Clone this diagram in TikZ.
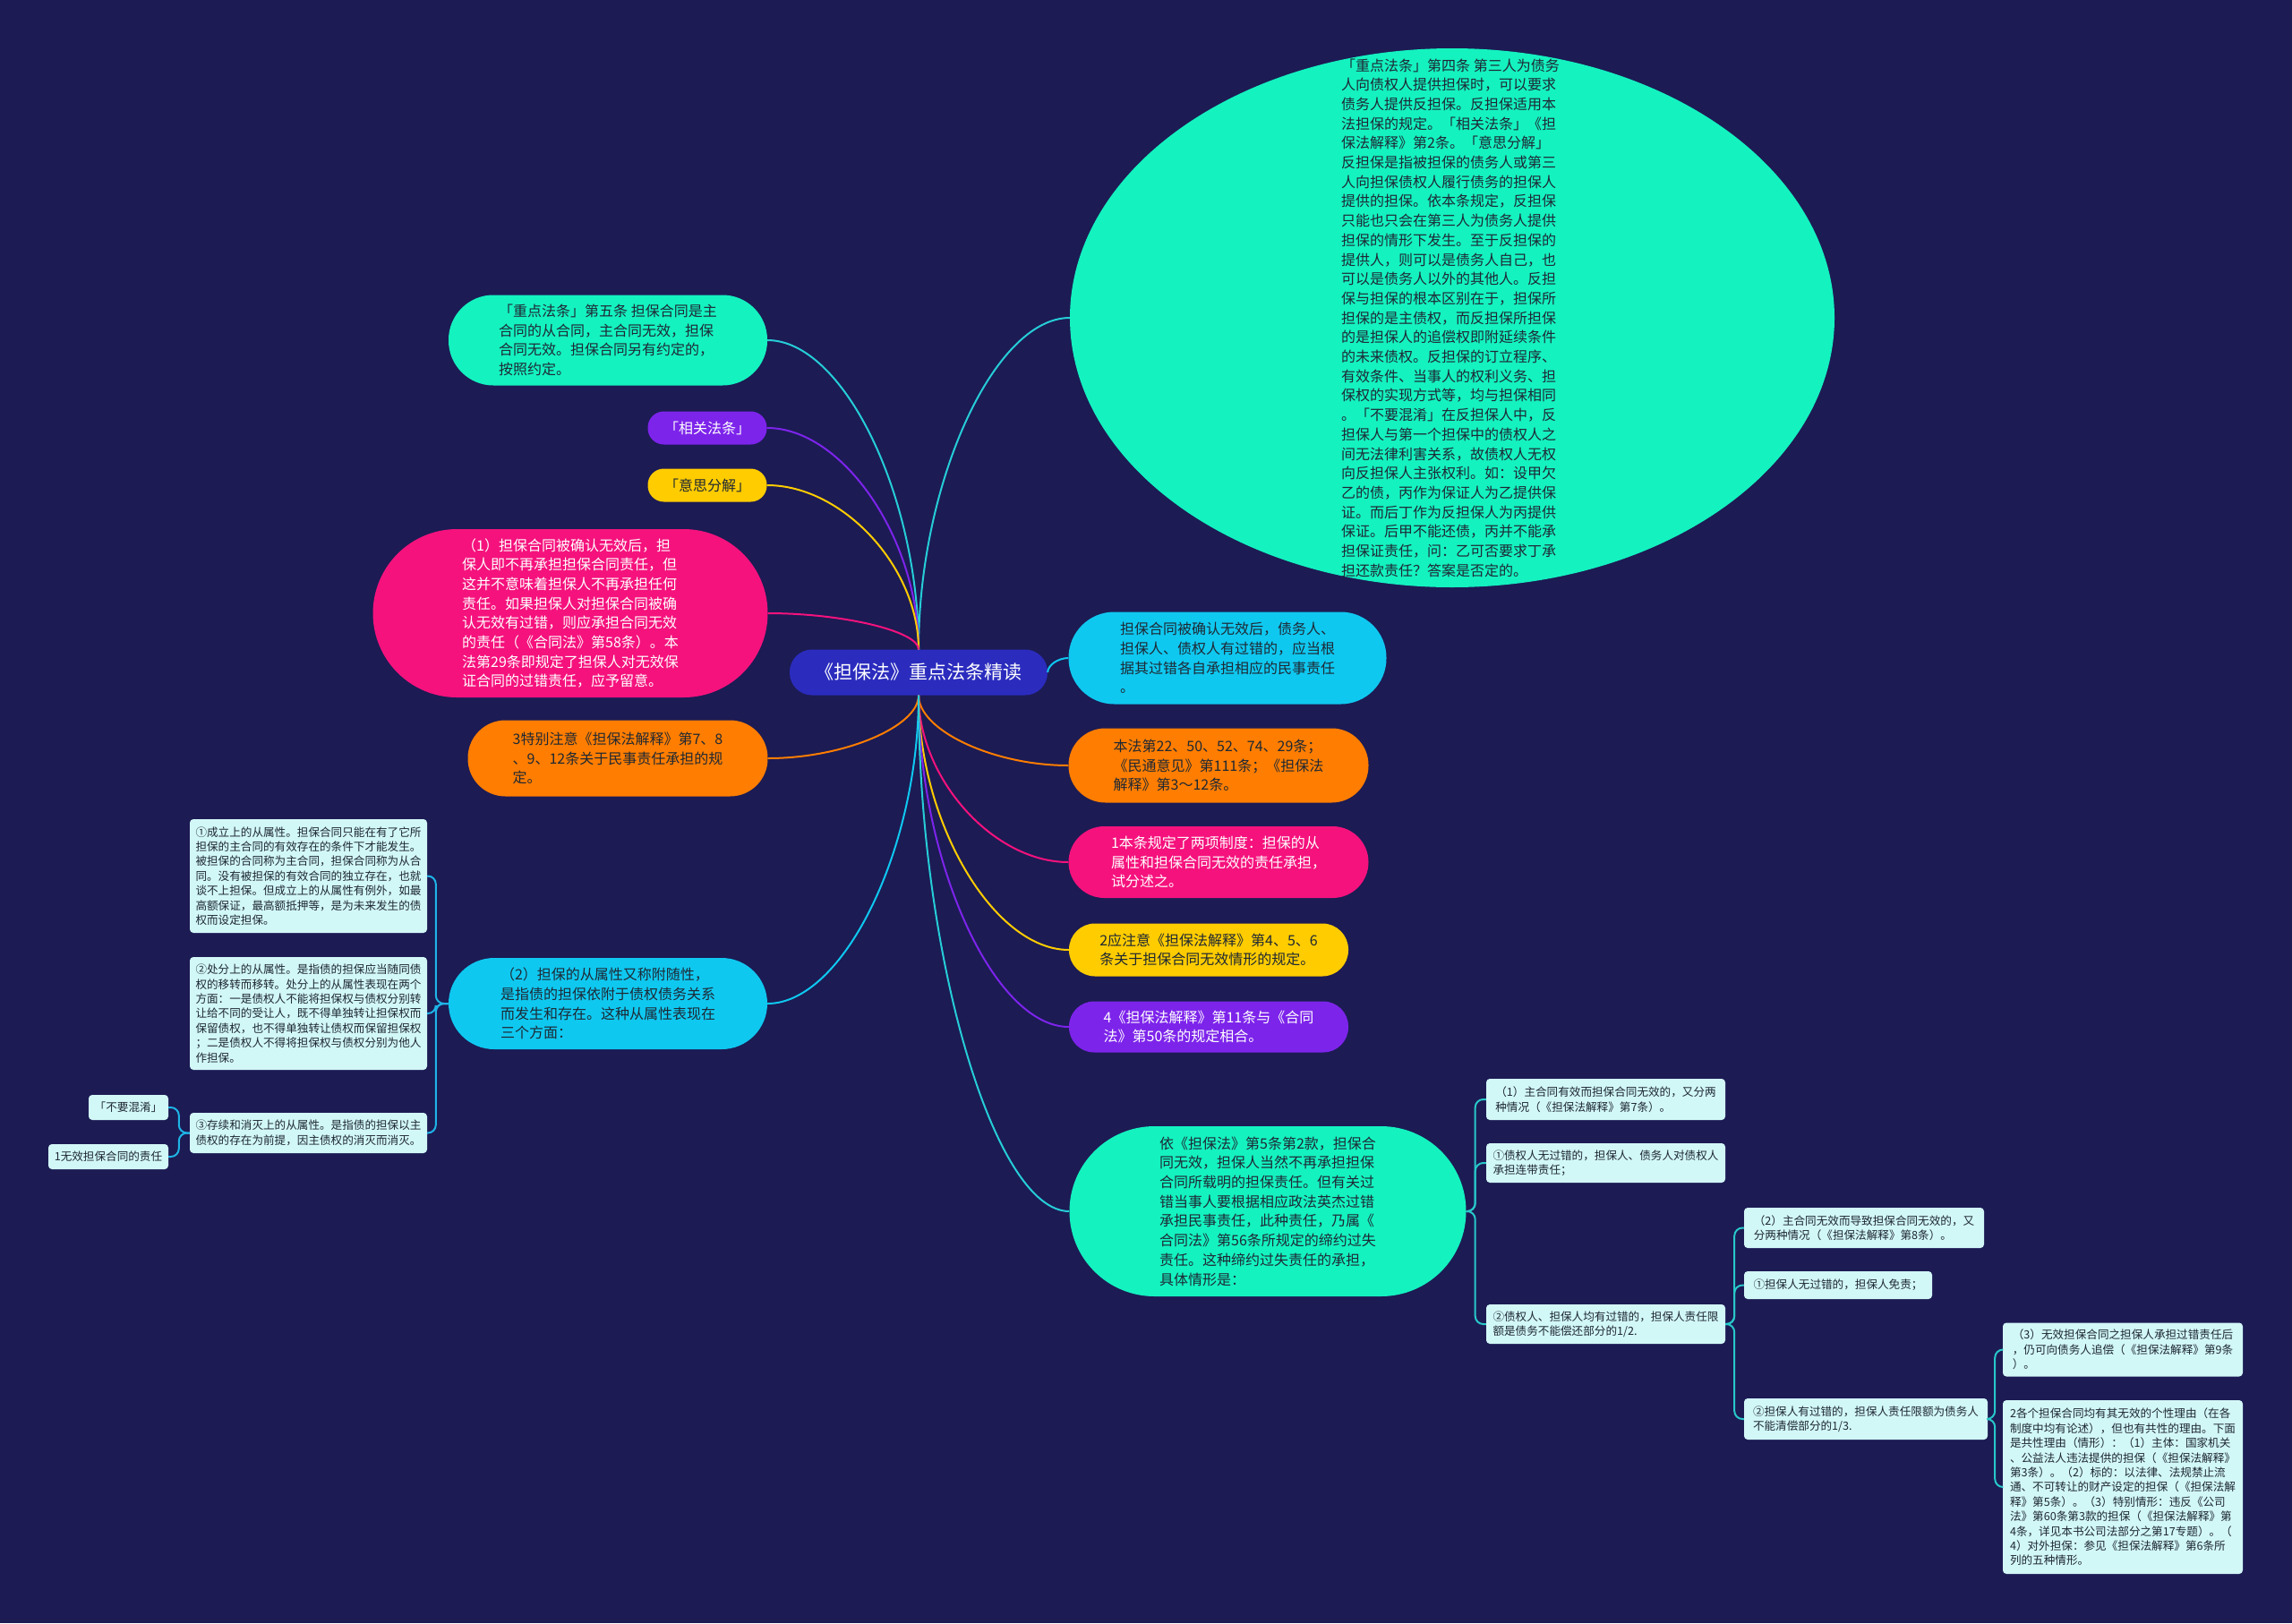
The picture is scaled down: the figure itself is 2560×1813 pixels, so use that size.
\documentclass[tikz,border=0pt]{standalone}
\usepackage{fontspec}
\setmainfont{Noto Sans CJK SC}
\usetikzlibrary{calc,shapes.geometric}
\definecolor{bg}{RGB}{28,27,84}
\definecolor{cgreen}{RGB}{20,242,192}
\definecolor{cgreenedge}{RGB}{38,205,215}
\definecolor{ccenter}{RGB}{43,44,190}
\definecolor{cpurple}{RGB}{125,36,235}
\definecolor{cyellow}{RGB}{255,204,0}
\definecolor{cpink}{RGB}{245,18,125}
\definecolor{corange}{RGB}{255,125,0}
\definecolor{ccyan}{RGB}{15,200,240}
\definecolor{cbox}{RGB}{210,247,247}
\definecolor{cdark}{RGB}{30,40,52}
\definecolor{ccyanline}{RGB}{30,180,230}
\definecolor{ctealline}{RGB}{40,200,200}
\begin{document}
\begin{tikzpicture}[x=1pt,y=-1pt,
  pill/.style={rectangle,inner sep=0pt,align=left,font=\fontsize{16}{21.7}\selectfont},
  sbox/.style={rectangle,rounded corners=4pt,fill=cbox,text=cdark,inner sep=0pt,align=left,font=\fontsize{12.6}{16.4}\selectfont},
  mm/.style={line width=2pt,to path={let \p1=(\tikztostart),\p2=(\tikztotarget) in .. controls (\x1,{0.5*(\y1+\y2)}) and ({0.5*(\x1+\x2)},\y2) .. (\tikztotarget)}},
  brk/.style={line width=2pt,rounded corners=9pt}]
\fill[bg] (0,0) rectangle (2560,1813);
\useasboundingbox (0,0) rectangle (2560,1813);

% centre
\node[pill,fill=ccenter,text=white,minimum width=288,minimum height=51,rounded corners=25,font=\fontsize{21}{26}\selectfont] (ctr) at (1026,751) {《担保法》重点法条精读};

% big ellipse
\node[ellipse,fill=cgreen,minimum width=854,minimum height=602,inner sep=0pt] (big) at (1622,355) {};
\node[pill,text=cdark] (bigtext) at (1620,355) {「重点法条」第四条 第三人为债务\\人向债权人提供担保时，可以要求\\债务人提供反担保。反担保适用本\\法担保的规定。「相关法条」《担\\保法解释》第2条。「意思分解」\\反担保是指被担保的债务人或第三\\人向担保债权人履行债务的担保人\\提供的担保。依本条规定，反担保\\只能也只会在第三人为债务人提供\\担保的情形下发生。至于反担保的\\提供人，则可以是债务人自己，也\\可以是债务人以外的其他人。反担\\保与担保的根本区别在于，担保所\\担保的是主债权，而反担保所担保\\的是担保人的追偿权即附延续条件\\的未来债权。反担保的订立程序、\\有效条件、当事人的权利义务、担\\保权的实现方式等，均与担保相同\\。「不要混淆」在反担保人中，反\\担保人与第一个担保中的债权人之\\间无法律利害关系，故债权人无权\\向反担保人主张权利。如：设甲欠\\乙的债，丙作为保证人为乙提供保\\证。而后丁作为反担保人为丙提供\\保证。后甲不能还债，丙并不能承\\担保证责任，问：乙可否要求丁承\\担还款责任？答案是否定的。};

% left main nodes
\node[pill,fill=cgreen,text=cdark,minimum width=356,minimum height=101,rounded corners=50] (l1) at (679,380) {「重点法条」第五条 担保合同是主\\合同的从合同，主合同无效，担保\\合同无效。担保合同另有约定的，\\按照约定。};
\node[pill,fill=cpurple,text=white,minimum width=133,minimum height=37,rounded corners=18] (l2) at (790,478) {「相关法条」};
\node[pill,fill=cyellow,text=cdark,minimum width=133,minimum height=37,rounded corners=18] (l3) at (790,542) {「意思分解」};
\node[pill,fill=cpink,text=white,minimum width=441,minimum height=188,rounded corners=94] (l4) at (637,685) {（1）担保合同被确认无效后，担\\保人即不再承担担保合同责任，但\\这并不意味着担保人不再承担任何\\责任。如果担保人对担保合同被确\\认无效有过错，则应承担合同无效\\的责任（《合同法》第58条）。本\\法第29条即规定了担保人对无效保\\证合同的过错责任，应予留意。};
\node[pill,fill=corange,text=cdark,minimum width=335,minimum height=85,rounded corners=42] (l5) at (690,847) {3特别注意《担保法解释》第7、8\\、9、12条关于民事责任承担的规\\定。};
\node[pill,fill=ccyan,text=cdark,minimum width=356,minimum height=102,rounded corners=51] (l6) at (679,1121) {（2）担保的从属性又称附随性，\\是指债的担保依附于债权债务关系\\而发生和存在。这种从属性表现在\\三个方面：};

% right main nodes
\node[pill,fill=ccyan,text=cdark,minimum width=355,minimum height=103,rounded corners=51] (r1) at (1371,735) {担保合同被确认无效后，债务人、\\担保人、债权人有过错的，应当根\\据其过错各自承担相应的民事责任\\。};
\node[pill,fill=corange,text=cdark,minimum width=335,minimum height=83,rounded corners=41] (r2) at (1361,855) {本法第22、50、52、74、29条；\\《民通意见》第111条；《担保法\\解释》第3～12条。};
\node[pill,fill=cpink,text=white,minimum width=335,minimum height=80,rounded corners=40] (r3) at (1361,963) {1本条规定了两项制度：担保的从\\属性和担保合同无效的责任承担，\\试分述之。};
\node[pill,fill=cyellow,text=cdark,minimum width=312,minimum height=59,rounded corners=29] (r4) at (1350,1061) {2应注意《担保法解释》第4、5、6\\条关于担保合同无效情形的规定。};
\node[pill,fill=cpurple,text=white,minimum width=312,minimum height=57,rounded corners=28] (r5) at (1350,1147) {4《担保法解释》第11条与《合同\\法》第50条的规定相合。};
\node[pill,fill=cgreen,text=cdark,minimum width=443,minimum height=190,rounded corners=95] (r6) at (1416,1353) {依《担保法》第5条第2款，担保合\\同无效，担保人当然不再承担担保\\合同所载明的担保责任。但有关过\\错当事人要根据相应政法英杰过错\\承担民事责任，此种责任，乃属《\\合同法》第56条所规定的缔约过失\\责任。这种缔约过失责任的承担，\\具体情形是：};

% left small boxes
\node[sbox,minimum width=265,minimum height=127] (b1) at (344.5,978.5) {①成立上的从属性。担保合同只能在有了它所\\担保的主合同的有效存在的条件下才能发生。\\被担保的合同称为主合同，担保合同称为从合\\同。没有被担保的有效合同的独立存在，也就\\谈不上担保。但成立上的从属性有例外，如最\\高额保证，最高额抵押等，是为未来发生的债\\权而设定担保。};
\node[sbox,minimum width=265,minimum height=126] (b2) at (344.5,1132) {②处分上的从属性。是指债的担保应当随同债\\权的移转而移转。处分上的从属性表现在两个\\方面：一是债权人不能将担保权与债权分别转\\让给不同的受让人，既不得单独转让担保权而\\保留债权，也不得单独转让债权而保留担保权\\；二是债权人不得将担保权与债权分别为他人\\作担保。};
\node[sbox,minimum width=265,minimum height=45] (b3) at (344.5,1265.5) {③存续和消灭上的从属性。是指债的担保以主\\债权的存在为前提，因主债权的消灭而消灭。};
\node[sbox,minimum width=89,minimum height=28] (b4) at (143.5,1237) {「不要混淆」};
\node[sbox,minimum width=134,minimum height=28] (b5) at (121,1292) {1无效担保合同的责任};

% right small boxes
\node[sbox,minimum width=267,minimum height=46] (s1) at (1793.5,1228) {（1）主合同有效而担保合同无效的，又分两\\种情况（《担保法解释》第7条）。};
\node[sbox,minimum width=267,minimum height=44] (s2) at (1793.5,1299) {①债权人无过错的，担保人、债务人对债权人\\承担连带责任；};
\node[sbox,minimum width=267,minimum height=44] (s3) at (1793.5,1479) {②债权人、担保人均有过错的，担保人责任限\\额是债务不能偿还部分的1/2.};
\node[sbox,minimum width=268,minimum height=45] (s4) at (2082,1371.5) {（2）主合同无效而导致担保合同无效的，又\\分两种情况（《担保法解释》第8条）。};
\node[sbox,minimum width=210,minimum height=31] (s5) at (2053,1435.5) {①担保人无过错的，担保人免责；};
\node[sbox,minimum width=272,minimum height=46] (s6) at (2084,1585) {②担保人有过错的，担保人责任限额为债务人\\不能清偿部分的1/3.};
\node[sbox,minimum width=268,minimum height=60] (s7) at (2371,1507.5) {（3）无效担保合同之担保人承担过错责任后\\，仍可向债务人追偿（《担保法解释》第9条\\）。};
\node[sbox,minimum width=268,minimum height=194] (s8) at (2371,1661) {2各个担保合同均有其无效的个性理由（在各\\制度中均有论述），但也有共性的理由。下面\\是共性理由（情形）：（1）主体：国家机关\\、公益法人违法提供的担保（《担保法解释》\\第3条）。（2）标的：以法律、法规禁止流\\通、不可转让的财产设定的担保（《担保法解\\释》第5条）。（3）特别情形：违反《公司\\法》第60条第3款的担保（《担保法解释》第\\4条，详见本书公司法部分之第17专题）。（\\4）对外担保：参见《担保法解释》第6条所\\列的五种情形。};

% main connectors
\draw[mm,cgreenedge] (ctr.north) to (big.west);
\draw[mm,cgreenedge] (ctr.north) to (l1.east);
\draw[mm,cpurple] (ctr.north) to (l2.east);
\draw[mm,cyellow] (ctr.north) to (l3.east);
\draw[mm,cpink] (ctr.north) to (l4.east);
\draw[mm,corange] (ctr.south) to (l5.east);
\draw[mm,ccyan] (ctr.south) to (l6.east);
\draw[mm,ccyan] (ctr.east) to (r1.west);
\draw[mm,corange] (ctr.south) to (r2.west);
\draw[mm,cpink] (ctr.south) to (r3.west);
\draw[mm,cyellow] (ctr.south) to (r4.west);
\draw[mm,cpurple] (ctr.south) to (r5.west);
\draw[mm,cgreenedge] (ctr.south) to (r6.west);

% bracket connectors
\draw[brk,ccyanline] (l6.west) -- ++(-14,0) |- (b1.east);
\draw[brk,ccyanline] (l6.west) -- ++(-14,0) |- (b2.east);
\draw[brk,ccyanline] (l6.west) -- ++(-14,0) |- (b3.east);
\draw[brk,ccyanline] (b3.west) -- ++(-12,0) |- (b4.east);
\draw[brk,ccyanline] (b3.west) -- ++(-12,0) |- (b5.east);
\draw[brk,ctealline] (r6.east) -- ++(10,0) |- (s1.west);
\draw[brk,ctealline] (r6.east) -- ++(10,0) |- (s2.west);
\draw[brk,ctealline] (r6.east) -- ++(10,0) |- (s3.west);
\draw[brk,ctealline] (s3.east) -- ++(10,0) |- (s4.west);
\draw[brk,ctealline] (s3.east) -- ++(10,0) |- (s5.west);
\draw[brk,ctealline] (s3.east) -- ++(10,0) |- (s6.west);
\draw[brk,ctealline] (s6.east) -- ++(8,0) |- (s7.west);
\draw[brk,ctealline] (s6.east) -- ++(8,0) |- (s8.west);
\end{tikzpicture}
\end{document}
